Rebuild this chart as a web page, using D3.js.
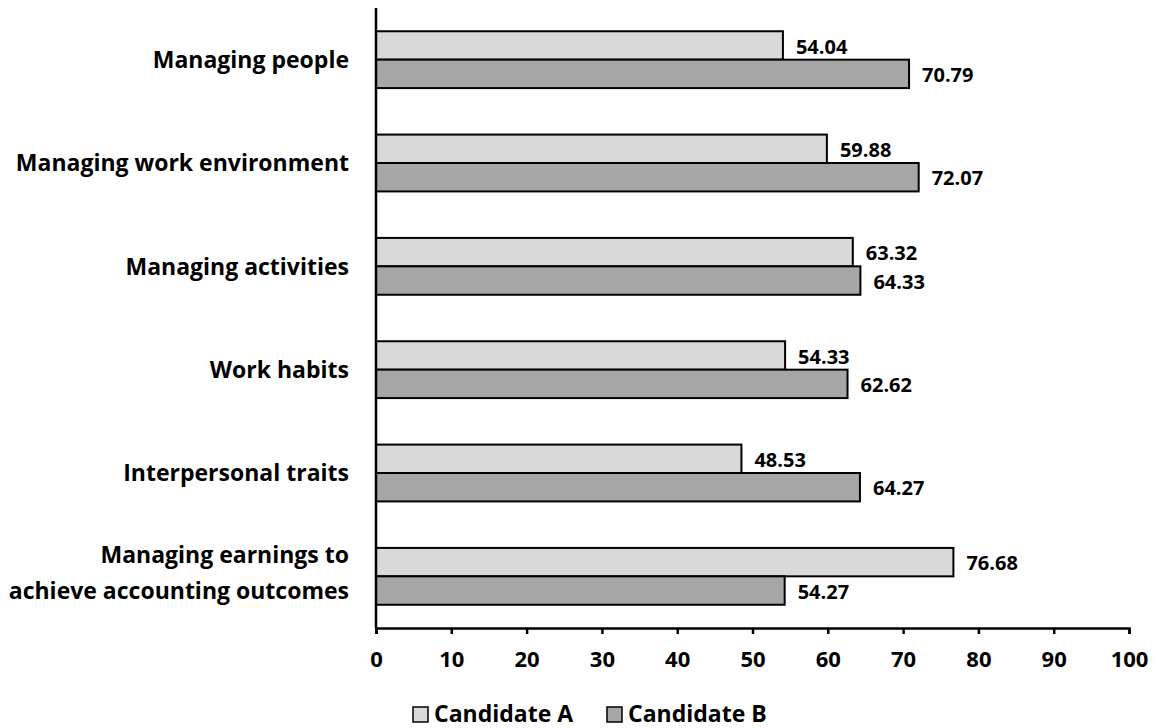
<!DOCTYPE html>
<html>
<head>
<meta charset="utf-8">
<script src="https://cdn.jsdelivr.net/npm/d3@7"></script>
<style>
  html, body { margin: 0; padding: 0; background: #fff; }
  svg { display: block; font-family: "Open Sans", sans-serif; font-weight: bold; }
</style>
</head>
<body>
<svg id="chart" width="1156" height="728"></svg>
<script>
// Competency categories, top to bottom
const categories = [
  ["Managing people"],
  ["Managing work environment"],
  ["Managing activities"],
  ["Work habits"],
  ["Interpersonal traits"],
  ["Managing earnings to", "achieve accounting outcomes"]
];
const seriesNames = ["Candidate A", "Candidate B"];
const candidateA = [54.04, 59.88, 63.32, 54.33, 48.53, 76.68];
const candidateB = [70.79, 72.07, 64.33, 62.62, 64.27, 54.27];
const xTicks = [0, 10, 20, 30, 40, 50, 60, 70, 80, 90, 100];

const colors = ["#d9d9d9", "#a6a6a6"];
const font = "'Open Sans', sans-serif";
const svg = d3.select("#chart");

const plotLeft = 376, plotRight = 1129, plotTop = 8, plotBottom = 628;

const x = d3.scaleLinear().domain([0, 100]).range([plotLeft, plotRight]);
const y = d3.scaleBand().domain(d3.range(categories.length)).range([plotTop, plotBottom]).paddingInner(0.45).paddingOuter(0.225);
const sub = d3.scaleBand().domain([0, 1]).range([0, y.bandwidth()]);

const series = [candidateA, candidateB];

// Bars
const groups = svg.append("g").selectAll("g")
  .data(categories.map((c, i) => i))
  .join("g")
  .attr("transform", i => `translate(0,${y(i)})`);

groups.selectAll("rect")
  .data(i => series.map((s, k) => ({ k, v: s[i] })))
  .join("rect")
  .attr("x", x(0))
  .attr("y", d => sub(d.k))
  .attr("width", d => x(d.v) - x(0))
  .attr("height", sub.bandwidth())
  .attr("fill", d => colors[d.k])
  .attr("stroke", "#000")
  .attr("stroke-width", 2);

groups.selectAll("text.val")
  .data(i => series.map((s, k) => ({ k, v: s[i] })))
  .join("text")
  .attr("class", "val")
  .attr("x", d => x(d.v) + 13)
  .attr("y", d => sub(d.k) + sub.bandwidth() / 2 + 1)
  .attr("dy", "0.36em")
  .attr("font-size", 20)
  .attr("fill", "#000")
  .text(d => d.v.toFixed(2));

// Category labels
const catLabels = svg.append("g").selectAll("text")
  .data(categories)
  .join("text")
  .attr("text-anchor", "end")
  .attr("font-size", 23)
  .attr("fill", "#000")
  .attr("transform", (c, i) => `translate(349,${y(i) + y.bandwidth() / 2})`);
catLabels.each(function(lines) {
  const t = d3.select(this);
  const lh = 36;
  const shift = lines.length > 1 ? -4 : 0;
  lines.forEach((ln, j) => {
    t.append("tspan")
      .attr("x", 0)
      .attr("y", (j - (lines.length - 1) / 2) * lh + shift)
      .attr("dy", "0.36em")
      .text(ln);
  });
});

// X axis
const xAxis = svg.append("g")
  .attr("transform", `translate(0,${plotBottom})`)
  .call(d3.axisBottom(x).tickValues(xTicks).tickSize(6).tickSizeOuter(6).tickPadding(17));
xAxis.select(".domain").attr("stroke", "#000").attr("stroke-width", 2.5);
xAxis.selectAll(".tick line").attr("stroke", "#000").attr("stroke-width", 2.5);
xAxis.selectAll(".tick text")
  .attr("font-size", 22).attr("font-weight", "bold").attr("fill", "#000")
  .attr("font-family", font);

// Y axis line
svg.append("line")
  .attr("x1", plotLeft).attr("x2", plotLeft)
  .attr("y1", plotTop).attr("y2", plotBottom)
  .attr("stroke", "#000").attr("stroke-width", 2.5);

// Legend
const legendPos = [413, 607];
const legend = svg.append("g").selectAll("g")
  .data(seriesNames)
  .join("g")
  .attr("transform", (d, i) => `translate(${legendPos[i]},707)`);
legend.append("rect")
  .attr("x", 0).attr("y", 0).attr("width", 15).attr("height", 15)
  .attr("fill", (d, i) => colors[i]).attr("stroke", "#000").attr("stroke-width", 1.5);
legend.append("text")
  .attr("x", 21).attr("y", 15)
  .attr("font-size", 23).attr("fill", "#000")
  .text(d => d);
</script>
</body>
</html>
